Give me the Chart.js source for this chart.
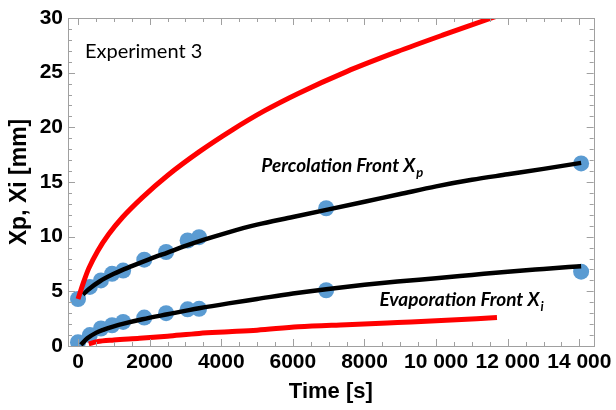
<!DOCTYPE html>
<html lang="en">
<head>
<meta charset="UTF-8">
<title>Experiment 3 - front positions</title>
<script src="https://cdn.jsdelivr.net/npm/chart.js"></script>
<style>
  body { margin: 0; background: #fff; }
  #frontChart { display: block; }
</style>
</head>
<body>
<canvas id="frontChart" width="616" height="410"></canvas>
<script>
// measured front positions, time in s, position in mm
const measTime   = [0, 330, 640, 950, 1260, 1850, 2460, 3060, 3380, 6930, 14050];
const xpMeasured = [4.3, 5.4, 6.0, 6.6, 6.9, 7.9, 8.6, 9.65, 9.95, 12.6, 16.7];
const xiMeasured = [0.35, 1.0, 1.6, 1.9, 2.2, 2.6, 3.0, 3.35, 3.4, 5.1, 6.8];

// fitted percolation front
const xpFitTime = [140, 300, 600, 1000, 1500, 2000, 2500, 3000, 3500, 4200, 5000, 6000, 7000, 8000, 9000, 10000, 11000, 12000, 13000, 14050];
const xpFit     = [4.7, 5.2, 5.9, 6.6, 7.3, 7.95, 8.55, 9.15, 9.7, 10.4, 11.1, 11.8, 12.5, 13.2, 13.9, 14.6, 15.2, 15.7, 16.2, 16.75];

// fitted evaporation front
const xiFitTime = [80, 260, 500, 720, 1000, 1275, 1800, 2500, 3380, 4200, 5000, 6000, 6930, 8000, 8920, 10000, 11000, 12000, 13000, 14050];
const xiFit     = [0.1, 0.7, 1.2, 1.5, 1.8, 2.05, 2.45, 2.9, 3.45, 3.9, 4.3, 4.8, 5.2, 5.6, 5.9, 6.2, 6.5, 6.8, 7.05, 7.3];

// model bounds (red)
const upperTime  = [0, 150, 300, 550, 850, 1250, 1800, 2500, 3400, 4300, 5200, 6150, 7500, 8900, 10200, 11550, 11800];
const upperModel = [4.3, 5.8, 7.1, 8.7, 10.2, 11.8, 13.6, 15.6, 17.8, 19.75, 21.5, 23.1, 25.1, 26.9, 28.45, 30.0, 30.3];
const lowerTime  = [300, 535, 1000, 1720, 2500, 3380, 4210, 5000, 6150, 7500, 8920, 10000, 11700];
const lowerModel = [0.2, 0.4, 0.55, 0.7, 0.9, 1.15, 1.3, 1.45, 1.75, 1.95, 2.15, 2.3, 2.6];

const xTickValues = [0, 2000, 4000, 6000, 8000, 10000, 12000, 14000];
const yTickValues = [0, 5, 10, 15, 20, 25, 30];

const BLUE = '#5a9bd2';
const FRAME = '#a0a0a0';

function pairs(xs, ys) {
  return xs.map((x, i) => ({ x: x, y: ys[i] }));
}

function fmtTime(v) {
  // thousands separated by a space from 10 000 on
  return v >= 10000 ? String(v).replace(/\B(?=(\d{3})+(?!\d))/g, ' ') : String(v);
}

function lineSet(data, color, width, order) {
  return {
    data: data,
    showLine: true,
    borderColor: color,
    borderWidth: width,
    pointRadius: 0,
    cubicInterpolationMode: 'monotone',
    clip: 0,
    order: order
  };
}

function pointSet(data) {
  return {
    data: data,
    showLine: false,
    pointRadius: 8,
    pointBackgroundColor: BLUE,
    pointBorderWidth: 0,
    clip: 0,
    order: 3
  };
}

// frame around the plot with inward ticks on all four sides
const framePlugin = {
  id: 'frame',
  afterDatasetsDraw(chart) {
    const { ctx, chartArea: a, scales: { x, y } } = chart;
    ctx.save();
    ctx.strokeStyle = FRAME;
    ctx.lineWidth = 1;
    ctx.beginPath();
    for (let t = 0; t <= x.max; t += 500) {
      const px = Math.round(x.getPixelForValue(t)) + 0.5;
      const len = t % 2000 === 0 ? 7 : 4;
      ctx.moveTo(px, a.bottom); ctx.lineTo(px, a.bottom - len);
      ctx.moveTo(px, a.top); ctx.lineTo(px, a.top + len);
    }
    for (let v = 0; v <= y.max; v += 1) {
      const py = Math.round(y.getPixelForValue(v)) + 0.5;
      const len = v % 5 === 0 ? 7 : 4;
      ctx.moveTo(a.left, py); ctx.lineTo(a.left + len, py);
      ctx.moveTo(a.right, py); ctx.lineTo(a.right - len, py);
    }
    ctx.stroke();
    ctx.strokeRect(Math.round(a.left) + 0.5, Math.round(a.top) + 0.5,
      Math.round(a.right - a.left), Math.round(a.bottom - a.top));
    ctx.restore();
  }
};

// text labels inside the plot
const labelPlugin = {
  id: 'labels',
  afterDraw(chart) {
    const { ctx, scales: { x, y } } = chart;
    ctx.save();
    ctx.fillStyle = '#000';
    ctx.textBaseline = 'middle';
    ctx.font = '20px Lato, "Open Sans", sans-serif';
    ctx.fillText('Experiment 3', x.getPixelForValue(195), y.getPixelForValue(26.9));

    ctx.textBaseline = 'alphabetic';
    const main = 'italic bold 19px Lato, "Open Sans", sans-serif';
    const sub = 'italic bold 13px Lato, "Open Sans", sans-serif';
    function withSub(text, s, t, v) {
      const px = x.getPixelForValue(t);
      const py = y.getPixelForValue(v);
      ctx.font = main;
      ctx.fillText(text, px, py);
      const w = ctx.measureText(text).width;
      ctx.font = sub;
      ctx.fillText(s, px + w + 1, py + 5);
    }
    withSub('Percolation Front X', 'p', 5120, 15.9);
    withSub('Evaporation Front X', 'i', 8420, 3.66);
    ctx.restore();
  }
};

const tickFont = { family: '"Liberation Sans", Arial, sans-serif', size: 21, weight: 'bold' };

new Chart(document.getElementById('frontChart'), {
  type: 'scatter',
  data: {
    datasets: [
      pointSet(pairs(measTime, xpMeasured)),
      pointSet(pairs(measTime, xiMeasured)),
      lineSet(pairs(xpFitTime, xpFit), '#000', 4.5, 2),
      lineSet(pairs(xiFitTime, xiFit), '#000', 4.5, 2),
      lineSet(pairs(upperTime, upperModel), '#ff0000', 5, 1),
      lineSet(pairs(lowerTime, lowerModel), '#ff0000', 5, 1)
    ]
  },
  options: {
    responsive: false,
    animation: false,
    layout: { padding: { top: 18, right: 20, left: 0, bottom: 0 } },
    plugins: { legend: { display: false }, tooltip: { enabled: false } },
    scales: {
      x: {
        type: 'linear',
        min: -280,
        max: 14400,
        afterBuildTicks: s => { s.ticks = xTickValues.map(v => ({ value: v })); },
        afterFit: s => { s.height = 64; },
        grid: { display: false, drawTicks: false },
        border: { display: false },
        ticks: { font: tickFont, color: '#000', padding: 4, maxRotation: 0, autoSkip: false, callback: v => fmtTime(v) },
        title: {
          display: true,
          text: 'Time [s]',
          color: '#000',
          font: { family: '"Liberation Sans", Arial, sans-serif', size: 22, weight: 'bold' },
          padding: { top: 0, bottom: 5 }
        }
      },
      y: {
        min: 0,
        max: 30,
        afterBuildTicks: s => { s.ticks = yTickValues.map(v => ({ value: v })); },
        afterFit: s => { s.width = 68; },
        grid: { display: false, drawTicks: false },
        border: { display: false },
        ticks: { font: tickFont, color: '#000', padding: 5 },
        title: {
          display: true,
          text: 'Xp, Xi [mm]',
          color: '#000',
          font: { family: '"Liberation Sans", Arial, sans-serif', size: 23, weight: 'bold' },
          padding: { top: 6, bottom: 0 }
        }
      }
    }
  },
  plugins: [framePlugin, labelPlugin]
});
</script>
</body>
</html>
